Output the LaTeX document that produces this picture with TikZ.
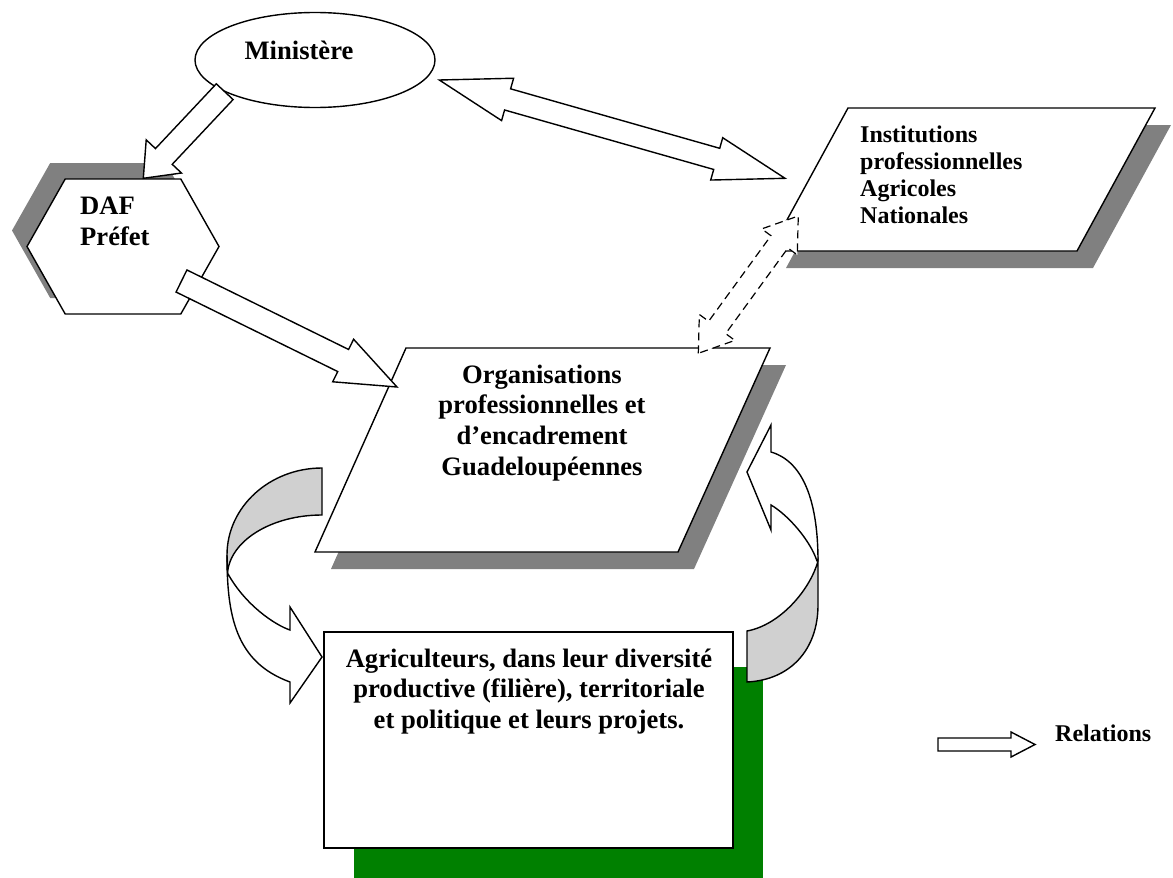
\documentclass[tikz,border=0pt]{standalone}
\usepackage{fontspec}
\setmainfont{Liberation Serif}
\usetikzlibrary{positioning, calc, shapes.geometric, shapes.symbols, shadows}

\definecolor{shadowgray}{gray}{0.5}
\definecolor{curlgray}{RGB}{208,208,208}
\definecolor{agrigreen}{RGB}{0,128,0}

% block arrow: [options]{from}{to}{half shaft}{half head}{head length}
\newcommand{\blockarrow}[6][]{%
  \coordinate (ba-h) at ($(#3)!#6!(#2)$);
  \draw[relation,#1] ($(#2)!#4!90:(#3)$) -- ($(ba-h)!#4!90:(#3)$) -- ($(ba-h)!#5!90:(#3)$) -- (#3)
    -- ($(ba-h)!#5!-90:(#3)$) -- ($(ba-h)!#4!-90:(#3)$) -- ($(#2)!#4!-90:(#3)$) -- cycle;
}
% same with a head at both ends
\newcommand{\dblockarrow}[6][]{%
  \coordinate (ba-a) at ($(#2)!#6!(#3)$);
  \coordinate (ba-b) at ($(#3)!#6!(#2)$);
  \draw[relation,#1] (#2) -- ($(ba-a)!#5!90:(#3)$) -- ($(ba-a)!#4!90:(#3)$) -- ($(ba-b)!#4!90:(#3)$)
    -- ($(ba-b)!#5!90:(#3)$) -- (#3) -- ($(ba-b)!#5!-90:(#3)$) -- ($(ba-b)!#4!-90:(#3)$)
    -- ($(ba-a)!#4!-90:(#3)$) -- ($(ba-a)!#5!-90:(#3)$) -- cycle;
}

\begin{document}
\begin{tikzpicture}[x=1pt, y=-1pt,
every node/.style={inner sep=0pt},
outline/.style={draw=black, fill=white, line width=1.4pt},
ministry/.style={outline, ellipse, minimum width=240, minimum height=95},
office/.style={outline, signal, signal to=east and west, signal pointer angle=121,
  minimum width=192, minimum height=135,
  drop shadow={shadow xshift=-15pt, shadow yshift=16pt, fill=shadowgray, opacity=1}},
slanted/.style={outline, line join=miter,
  drop shadow={shadow xshift=16pt, shadow yshift=-17pt, fill=shadowgray, opacity=1}},
farmers/.style={outline, rectangle, minimum width=409, minimum height=216,
  drop shadow={shadow xshift=30pt, shadow yshift=-35pt, fill=agrigreen, opacity=1}},
lbl/.style={font=\fontsize{26.6}{30.7}\selectfont\bfseries, align=center},
smalllbl/.style={font=\fontsize{24}{27}\selectfont\bfseries, align=left},
relation/.style={outline, line join=miter},
curlback/.style={draw=black, fill=curlgray, line width=1.4pt},
curlfront/.style={draw=black, fill=white, line width=1.4pt}
]
\useasboundingbox (0,0) rectangle (1173,878);

%Nodes
\node[ministry]    (min)   at (315,60)      {};
\node[office]      (daf)   at (123,246.5)   {};
\draw[slanted] (848,108) -- (1155,108) -- (1077,251) -- (770,251) -- cycle;
\draw[slanted] (406,348) -- (770,348) -- (678,552) -- (315,552) -- cycle;
\node[farmers]     (agri)  at (528.5,740)   {};

%Texts
\node[lbl, anchor=north]                  (mintxt)  at (299,41)      {Ministère};
\node[lbl, align=left, anchor=north west] (daftxt)  at (80,196.6)    {DAF\\Préfet};
\node[smalllbl, anchor=north west]        (insttxt) at (860,125.4)   {Institutions\\professionnelles\\Agricoles\\Nationales};
\node[lbl, anchor=north]                  (orgtxt)  at (542,364.6)   {Organisations\\professionnelles et\\d’encadrement\\Guadeloupéennes};
\node[lbl, anchor=north]                  (agritxt) at (529,648.6)   {Agriculteurs, dans leur diversité\\productive (filière), territoriale\\et politique et leurs projets.};
\node[smalllbl, anchor=base west]         (legtxt)  at (1055,741)    {Relations};

%Curved arrows
\draw[curlback] (322,468) .. controls (269.6,468) and (227,507) .. (227,555) -- (227.5,573)
  .. controls (230,541) and (271,515) .. (322,515) -- cycle;
\draw[curlfront] (227,555) .. controls (227,615) and (235,662) .. (290,682) -- (290,703) -- (322,657)
  -- (290,607) -- (290,630) .. controls (275,625) and (245,605) .. (227.5,573) -- cycle;
\draw[curlback] (747,631) -- (747,682) .. controls (790,680) and (818,650) .. (818,605) -- (818,561)
  .. controls (810,590) and (780,625) .. (747,631) -- cycle;
\draw[curlfront] (818,561) .. controls (818,505) and (805,462) .. (771,452) -- (771,425) -- (747,472)
  -- (771,530) -- (771,505) .. controls (788,515) and (810,540) .. (817,561) -- cycle;

%Lines
\coordinate (minout)   at (224.7,91.7);
\coordinate (dafin)    at (143.3,178.3);
\coordinate (dafout)   at (181.5,281);
\coordinate (orgin)    at (397,387);
\coordinate (minright) at (439.3,80);
\coordinate (instin)   at (785,178.3);
\coordinate (orgtop)   at (698.3,353.3);
\coordinate (instout)  at (798.3,216);
\coordinate (legA)     at (938,744.5);
\coordinate (legB)     at (1035,744.5);

\blockarrow{minout}{dafin}{11.5pt}{24.2pt}{30pt}
\blockarrow{dafout}{orgin}{12.3pt}{23.7pt}{60pt}
\dblockarrow{minright}{instin}{11pt}{22pt}{71pt}
\dblockarrow[dash pattern=on 8pt off 5pt, line width=1.2pt]{orgtop}{instout}{10.5pt}{22pt}{32pt}
\blockarrow{legA}{legB}{6.5pt}{12.5pt}{24pt}
\end{tikzpicture}
\end{document}
